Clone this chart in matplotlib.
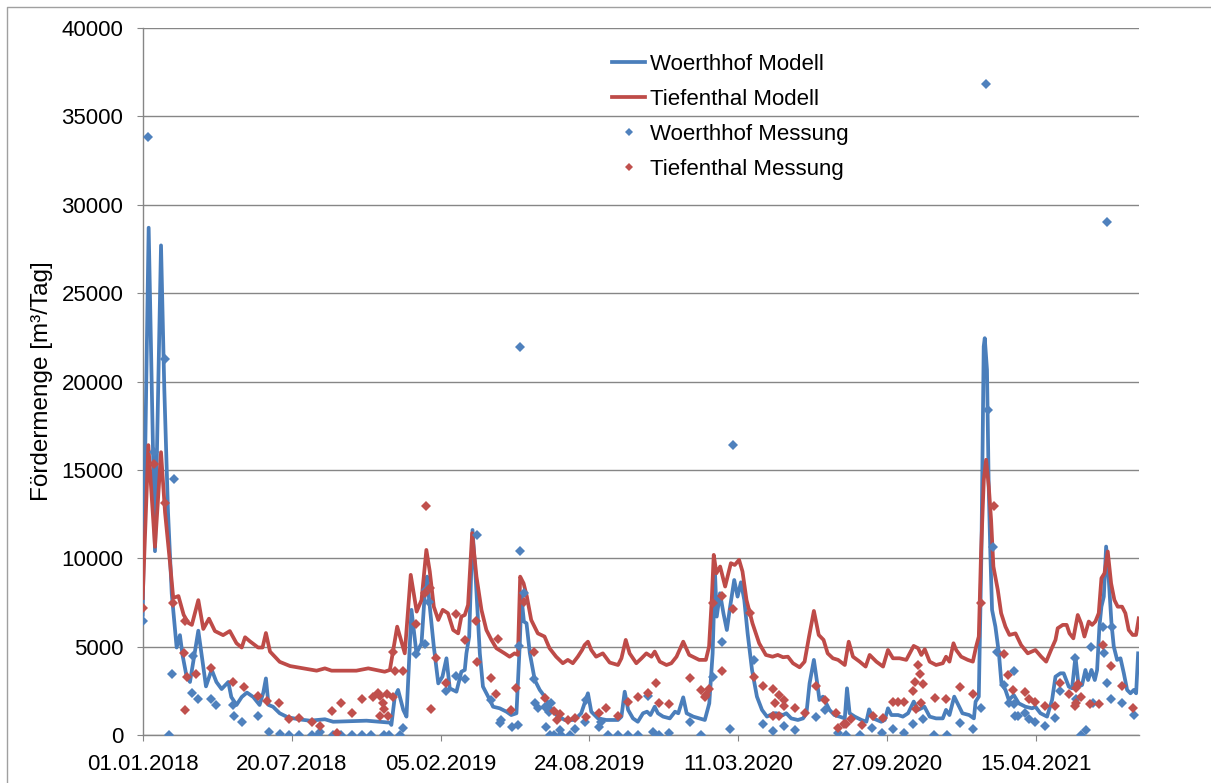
import matplotlib
matplotlib.use("Agg")
import matplotlib.pyplot as plt
import matplotlib.dates as mdates
import matplotlib.lines as mlines
import numpy as np
import pandas as pd

plt.rcParams["font.family"] = ["Liberation Sans", "DejaVu Sans"]

START = pd.Timestamp("2018-01-01")

# ── Woerthhof Modell (days since 01.01.2018, m3/Tag) ─────────────────────────
woerthhof_model_days = [
    0, 8, 16.5, 24.6, 29, 34, 39, 45.6, 50, 53.6, 59, 63.5, 74.7, 85, 92.6, 99,
    106, 115, 119, 126, 133, 140, 148.5, 157, 162, 165.5, 169, 175, 184, 195,
    211, 224.6, 244.7, 255.8, 300.6, 332, 334, 338.6, 343, 350, 354.3, 361,
    367.7, 374.5, 379, 382, 385.6, 391, 397, 402.6, 408, 412.4, 421.4, 428,
    432.6, 434.8, 438.5, 443, 447.4, 452.8, 457, 464, 470.6, 479.5, 488.5, 495,
    502, 506.5, 508.7, 512, 515.5, 520, 526.6, 533.3, 540, 546.7, 555.6, 566.8,
    580, 589, 593.5, 598, 602.5, 611.5, 622.6, 638.4, 643, 647.4, 652, 658.5,
    665, 672, 677.4, 682, 687.7, 692, 699, 708, 715, 719.4, 726, 730.6, 739.5,
    755, 761, 765.5, 768.7, 771, 775.4, 780, 784.6, 789, 794.5, 799, 803.5, 808,
    812.5, 818.4, 825, 831.8, 838.5, 847.5, 851, 860, 864.4, 871, 880, 887,
    891.5, 895.7, 901.5, 906, 909, 913.6, 918, 922.5, 929, 936, 943, 946, 949.5,
    956.4, 965.4, 972, 975.7, 981, 992, 996.7, 1001, 1005.6, 1014.6, 1021, 1028,
    1035.6, 1041.4, 1050, 1057, 1065.6, 1074.6, 1079, 1083.6, 1090, 1094.5,
    1101, 1110, 1116.4, 1118.7, 1123, 1126.5, 1129.6, 1131, 1134, 1136.3,
    1138.5, 1140.8, 1145.3, 1150, 1153.4, 1158.8, 1163.3, 1170, 1176.7, 1185.7,
    1194.6, 1199, 1205.8, 1214.7, 1221.4, 1226, 1232.6, 1237, 1243.8, 1248.3,
    1252.8, 1257.2, 1261.7, 1266.2, 1269.8, 1274.3, 1278.8, 1281.9, 1285,
    1287.7, 1290.9, 1294, 1297.6, 1301.2, 1304.3, 1308.8, 1313.3, 1317.8,
    1322.2, 1326.7, 1331.2, 1334.3, 1337,
]
woerthhof_model_vals = [
    6800, 28700, 10400, 27700, 19600, 12600, 8000, 4950, 5650, 4500, 3300, 3000,
    5900, 2750, 3700, 3000, 2600, 3000, 2150, 1700, 2150, 2400, 2150, 1700, 2400,
    3200, 1700, 1600, 1230, 1000, 880, 810, 890, 750, 810, 700, 570, 2170, 2550,
    1420, 1040, 7080, 4620, 5190, 8110, 8960, 7260, 5000, 2920, 3300, 4340, 2640,
    2450, 3580, 3680, 4620, 5570, 11600, 8770, 4620, 2740, 2170, 1600, 1510,
    1320, 1130, 1230, 5190, 7830, 6420, 6320, 4620, 3110, 2550, 2170, 1600, 1130,
    850, 850, 1230, 1790, 2360, 1320, 940, 850, 850, 1040, 2450, 1420, 940, 750,
    1230, 1320, 1130, 1600, 1230, 1040, 940, 1320, 1230, 2130, 1230, 1040, 850,
    1790, 4620, 9150, 6700, 8020, 6890, 5940, 7260, 8770, 7830, 8640, 7640, 5750,
    3680, 2170, 1420, 1040, 1230, 1230, 1130, 1230, 940, 850, 940, 1230, 2920,
    4250, 2920, 1980, 2170, 1790, 1420, 1130, 1040, 940, 2640, 1230, 1040, 850,
    750, 1450, 940, 750, 850, 1510, 1130, 1130, 1040, 1230, 1890, 1420, 1600,
    1040, 940, 940, 1420, 1130, 2170, 1790, 1230, 1130, 940, 1890, 2170, 10280,
    21980, 22450, 20660, 14060, 10280, 7080, 6130, 4620, 2920, 2550, 1980, 2260,
    1790, 1600, 1510, 1600, 1230, 1040, 1980, 3300, 3490, 3490, 2740, 2640, 4430,
    2740, 2830, 3680, 3110, 3680, 3110, 3680, 6130, 7260, 7830, 10660, 8770,
    6320, 5000, 4250, 4340, 3490, 2550, 2360, 2550, 2360, 4620,
]

# ── Tiefenthal Modell ────────────────────────────────────────────────────────
tiefenthal_model_days = [
    0, 7.6, 16.5, 24.6, 30, 37, 41, 48, 55, 61, 66, 74.7, 81.4, 89, 97, 108, 117,
    126, 133, 137.5, 144, 155, 161, 165.5, 171, 184, 198, 215.6, 233.6, 244.7,
    253.7, 287, 303, 325, 332, 336.5, 341.8, 352, 360, 368, 374.5, 381, 385.6,
    391, 397, 403, 410, 417, 423.7, 428, 432.6, 437, 442.5, 448.3, 455, 461.6,
    468.4, 475, 486, 492.8, 499.5, 504, 507, 511.6, 516, 521.8, 530.7, 539.7,
    546.4, 555.3, 564.3, 571, 577.7, 584.4, 590.2, 593.5, 598, 602.5, 609, 618,
    627.2, 638.4, 643, 648.8, 654, 663, 670, 676.5, 683.3, 687.7, 694.5, 703.5,
    710, 717, 726, 734, 747.4, 756.4, 760.7, 764.3, 767, 770.6, 775.6, 782.3,
    790, 795.2, 801, 805.6, 811, 819, 828, 837, 846, 853, 860, 866.6, 873.4,
    882.3, 889, 895, 901.5, 908, 914.5, 920, 927, 934, 943, 948.3, 954, 963, 971,
    976.4, 985.4, 994.4, 1001, 1007.7, 1016.6, 1025.6, 1035.5, 1041.4, 1045.8,
    1050.4, 1057, 1065.6, 1074.6, 1079, 1083.6, 1089, 1092.6, 1099.3, 1108.2,
    1115, 1119.4, 1123, 1126, 1129.7, 1132.8, 1136.4, 1139.5, 1142.6, 1148.5,
    1153, 1158.8, 1164.2, 1172.3, 1179.8, 1188.8, 1199, 1206.8, 1213.5, 1220,
    1226, 1229, 1235.8, 1241, 1244.8, 1250, 1255.9, 1260.4, 1264.9, 1270.7,
    1275.2, 1279.6, 1284.1, 1287.7, 1291.8, 1296.2, 1300.7, 1305.1, 1309.6,
    1315.4, 1319.9, 1324.4, 1329.7, 1334.2, 1337.8,
]
tiefenthal_model_vals = [
    7750, 16400, 10650, 16000, 12600, 9600, 7750, 7860, 6800, 6350, 6230, 7630,
    6000, 6580, 5880, 5650, 5880, 5190, 4950, 5530, 5300, 4950, 4950, 5770, 4720,
    4140, 3900, 3770, 3640, 3770, 3640, 3640, 3770, 3580, 3680, 4810, 6130, 4620,
    9060, 6980, 7640, 10470, 9250, 7260, 6510, 7080, 6890, 5940, 5750, 6700, 6790,
    7360, 11420, 8960, 7080, 5940, 5380, 4910, 4620, 4430, 4620, 4530, 8960, 8580,
    7830, 6510, 5750, 5570, 4910, 4430, 4060, 4250, 4060, 4430, 4810, 5090, 5280,
    4810, 4430, 4620, 4100, 3960, 4340, 5380, 4620, 4060, 4340, 4620, 4430, 4720,
    4150, 3960, 4060, 4430, 5280, 4530, 4250, 4250, 5000, 7640, 10190, 9150, 9530,
    8400, 9720, 9620, 9910, 9250, 7640, 6320, 5190, 4530, 4430, 4530, 4400, 4430,
    4060, 3830, 4150, 5570, 7020, 5660, 5380, 4620, 4340, 4250, 3960, 5280, 4430,
    4150, 3870, 4530, 4150, 3870, 4810, 4340, 4340, 4250, 5040, 4910, 4530, 4850,
    4150, 3960, 4060, 4430, 4150, 5190, 4810, 4430, 4250, 4150, 5000, 5570, 10280,
    14430, 15570, 14060, 12170, 9530, 8210, 6890, 6130, 5660, 5750, 5090, 4620,
    4810, 4430, 4150, 4810, 5380, 6040, 6230, 6230, 5750, 5470, 6790, 6320, 5570,
    6420, 6230, 6420, 6890, 8870, 9150, 10380, 8580, 7640, 7260, 7260, 6890, 5940,
    5660, 5660, 6600,
]

# ── Woerthhof Messung ────────────────────────────────────────────────────────
woerthhof_meas_days = [
    1, 7.6, 15.5, 30, 41.6, 39, 35.8, 66, 67, 73.8, 92, 98.5, 120.8, 123, 133,
    154.3, 170, 184, 197, 210, 226.8, 235.8, 238, 256, 267, 281, 295, 306, 324,
    331, 345.5, 350, 366.9, 379, 380, 384.7, 408, 420.5, 432.6, 449.6, 468.4,
    479.5, 480.8, 496, 504, 505.6, 506.5, 507.3, 511.6, 525.4, 526.3, 530.7, 540,
    542, 545.6, 546.4, 548, 551.8, 560, 562, 573.3, 581, 594.6, 595.5, 613.4,
    615.6, 625, 638, 652, 665.4, 679, 685.6, 693, 707, 735.5, 750, 765.8, 778,
    788.3, 793, 821, 833.7, 847, 861.3, 875.6, 903.7, 916, 934, 945, 963, 980,
    993.4, 1008.4, 1022.4, 1034.4, 1048.7, 1063, 1080, 1098, 1115, 1126.2,
    1133.3, 1135, 1142.6, 1147.5, 1156.2, 1163, 1170, 1170.5, 1171.5, 1176,
    1184.5, 1190.3, 1198, 1211.3, 1226, 1232.3, 1252.5, 1253.8, 1260.4, 1267,
    1273.8, 1276, 1289.5, 1290.9, 1295.4, 1295.8, 1300.7, 1302, 1315.4, 1331,
]
woerthhof_meas_vals = [
    6470, 33840, 16000, 21280, 14500, 3440, 0, 2400, 4490, 2050, 2050, 1700,
    1700, 1070, 720, 1070, 190, 70, 0, 0, 0, 0, 150, 0, 0, 0, 0, 0, 0, 0, 0, 380,
    4580, 5150, 8210, 7550, 2510, 3360, 3150, 11320, 1980, 660, 850, 470, 570,
    5040, 10430, 21980, 8020, 3170, 1830, 1510, 1600, 470, 1320, 0, 1830, 0, 280,
    0, 0, 320, 750, 1980, 470, 750, 0, 0, 0, 0, 2210, 190, 0, 90, 750, 0, 3260,
    5280, 320, 16420, 4250, 620, 210, 530, 280, 1040, 1420, 130, 0, 0, 380, 90,
    320, 90, 600, 890, 0, 0, 700, 320, 1510, 36830, 18400, 10620, 4680, 2830,
    1830, 3640, 1750, 1090, 1090, 1260, 890, 750, 510, 980, 2510, 4340, 2020, 0,
    280, 5000, 1830, 6130, 4660, 2960, 29020, 2020, 6130, 1790, 1130,
]

# ── Tiefenthal Messung ───────────────────────────────────────────────────────
tiefenthal_meas_days = [
    1, 15, 30, 41, 56.8, 55, 59, 56.8, 71, 92, 120.8, 136.4, 154.3, 167, 183, 197,
    210, 226.8, 238, 254.6, 260.4, 267, 281, 295, 309, 316.3, 318.5, 318.5, 323,
    324, 328.8, 329.7, 336.4, 336.4, 338.6, 350, 366.9, 379, 380.2, 385.6, 387,
    393.3, 407, 420.5, 433.5, 447, 449, 468.4, 475, 477, 495, 501.3, 511.6,
    525.4, 540.6, 553, 556.3, 560, 571, 580.8, 595.5, 613.4, 622.6, 638, 652,
    665.4, 679, 690, 693, 707, 735.5, 750, 754.7, 757, 760, 765.8, 778, 778.4,
    793, 815.6, 821.5, 833.7, 847, 849, 854, 847, 855, 861, 862, 875.6, 889,
    903.7, 916, 931.6, 934, 941.4, 945, 951.6, 966.4, 980.8, 994.3, 1008.4, 1015,
    1022.6, 1034.3, 1037.5, 1039, 1042, 1044, 1045.6, 1048.7, 1063.5, 1078.3,
    1098, 1115, 1126.2, 1143.2, 1156.2, 1162, 1168.8, 1184.5, 1190.3, 1197.9,
    1211.3, 1226, 1232.3, 1244.8, 1251.6, 1252.9, 1253.8, 1256, 1260.4, 1273,
    1284, 1289.5, 1300.7, 1315.4, 1329.7,
]
tiefenthal_meas_vals = [
    7160, 15330, 13140, 7470, 6470, 4650, 3260, 1440, 3440, 3770, 2980, 2700, 2230,
    1930, 1810, 930, 940, 750, 530, 1380, 90, 1830, 1260, 2040, 2170, 2360, 2210,
    1080, 1830, 1450, 2300, 1080, 2170, 4680, 3600, 3600, 6260, 8020, 12960, 8300,
    1450, 4380, 2920, 6830, 5380, 6450, 4150, 3210, 2300, 5420, 1420, 2640, 7550,
    4700, 2110, 1360, 850, 1170, 850, 940, 1000, 1230, 1510, 1080, 1850, 2170,
    2360, 2920, 1790, 1750, 3250, 2550, 2170, 2260, 2580, 7450, 7890, 3620, 7130,
    6920, 3300, 2770, 2620, 1800, 2260, 1080, 1080, 1640, 1980, 1510, 1230, 2770,
    1980, 1230, 380, 600, 600, 890, 570, 1080, 980, 1890, 1890, 1890, 2510, 3020,
    1450, 3960, 3450, 1830, 2890, 2120, 2020, 2740, 2320, 7490, 12960, 4570, 3400,
    2550, 2450, 2020, 1890, 1640, 1660, 2960, 2300, 1640, 1790, 2640, 2890, 2170,
    1740, 1740, 5090, 3920, 2790, 1510,
]

tick_days = [0, 200, 400, 600, 800, 1000, 1200]
y_ticks = [0, 5000, 10000, 15000, 20000, 25000, 30000, 35000, 40000]
x_end_day = 1337.5

BLUE = "#4A7EBB"
RED = "#BE4B48"
BLUE_M = "#4F81BD"
RED_M = "#C0504D"
GRID = "#868686"


def to_dates(days):
    return START + pd.to_timedelta(np.asarray(days, dtype=float), unit="D")


fig = plt.figure(figsize=(12.11, 7.83), dpi=100)
ax = fig.add_axes([142.7 / 1211, 48 / 783, (1138.5 - 142.7) / 1211, 707 / 783])

ax.plot(to_dates(woerthhof_model_days), woerthhof_model_vals, color=BLUE,
        linewidth=2.7, label="Woerthhof Modell", zorder=3)
ax.plot(to_dates(tiefenthal_model_days), tiefenthal_model_vals, color=RED,
        linewidth=2.7, label="Tiefenthal Modell", zorder=3)
ax.plot(to_dates(woerthhof_meas_days), woerthhof_meas_vals, linestyle="none",
        marker="D", markersize=5.2, color=BLUE_M, markeredgewidth=0,
        label="Woerthhof Messung", zorder=4)
ax.plot(to_dates(tiefenthal_meas_days), tiefenthal_meas_vals, linestyle="none",
        marker="D", markersize=5.2, color=RED_M, markeredgewidth=0,
        label="Tiefenthal Messung", zorder=5)

ax.set_xlim(START, START + pd.Timedelta(days=x_end_day))
ax.set_ylim(0, 40000)
ax.set_yticks(y_ticks)
ax.set_xticks(to_dates(tick_days))
ax.xaxis.set_major_formatter(mdates.DateFormatter("%d.%m.%Y"))

ax.grid(axis="y", color=GRID, linewidth=1.0)
ax.set_axisbelow(True)
for side in ["top", "right"]:
    ax.spines[side].set_visible(False)
for side in ["left", "bottom"]:
    ax.spines[side].set_color(GRID)
    ax.spines[side].set_linewidth(1.0)

ax.tick_params(axis="y", length=4, color=GRID, pad=10, labelsize=16)
ax.tick_params(axis="x", length=4, color=GRID, pad=10, labelsize=16)
ax.set_ylabel("Fördermenge [m³/Tag]", fontsize=17.5, labelpad=6)

ax.legend(loc="upper left", bbox_to_anchor=(603 / 1211, 1 - 45 / 783),
          bbox_transform=fig.transFigure, frameon=False, fontsize=16,
          handlelength=1.5, handletextpad=0.22, labelspacing=0.63,
          borderaxespad=0, markerscale=0.8)

# chart-area border (only top and left edges are inside the picture)
fig.add_artist(mlines.Line2D([6.5 / 1211, 6.5 / 1211, 1.0], [0.0, 1 - 6.5 / 783, 1 - 6.5 / 783],
                             transform=fig.transFigure, color="#A0A0A0", linewidth=1.0))

fig.savefig("out.png", dpi=100)
